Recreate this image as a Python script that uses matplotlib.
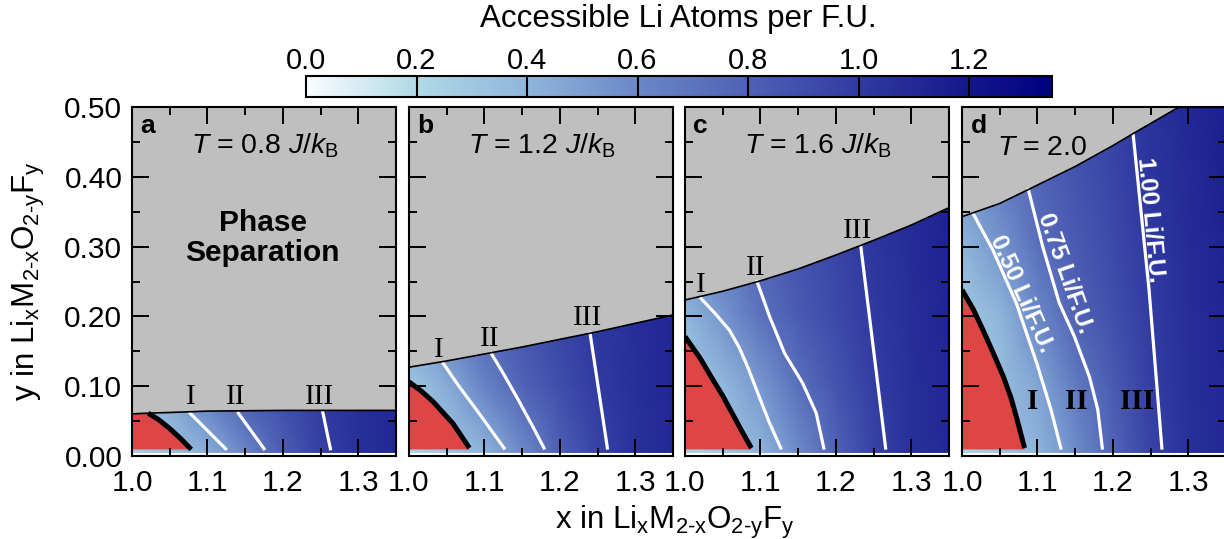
import numpy as np
import matplotlib
matplotlib.use("Agg")
import matplotlib.pyplot as plt
from matplotlib.colors import LinearSegmentedColormap, Normalize
from matplotlib.patches import Polygon
from matplotlib.ticker import MultipleLocator, FormatStrFormatter
import matplotlib.cm as cm

plt.rcParams['font.family'] = 'Liberation Sans'
plt.rcParams['mathtext.fontset'] = 'custom'
plt.rcParams['mathtext.rm'] = 'Liberation Sans'
plt.rcParams['mathtext.it'] = 'Liberation Sans:italic'
plt.rcParams['mathtext.bf'] = 'Liberation Sans:bold'

# colour scale (accessible Li per F.U.)
cbar_vals = [0.0, 0.2, 0.4, 0.6, 0.8, 1.0, 1.2, 1.35]
cbar_colors = [(0.98, 0.99, 1.00), (0.69, 0.85, 0.90), (0.56, 0.71, 0.86),
               (0.42, 0.53, 0.78), (0.31, 0.38, 0.71), (0.19, 0.23, 0.63),
               (0.08, 0.09, 0.55), (0.00, 0.00, 0.50)]
cbar_ticks = [0.0, 0.2, 0.4, 0.6, 0.8, 1.0, 1.2]

x_nodes = [1.00, 1.05, 1.10, 1.15, 1.20, 1.25, 1.30, 1.35]
temps = ['0.8', '1.2', '1.6', '2.0']

# ---- panel a ----
a_rows = [0.0, 0.07]
a_field = [[0.25, 0.33, 0.42, 0.60, 0.81, 0.96, 1.05, 1.10],
           [0.30, 0.42, 0.60, 0.78, 0.89, 0.995, 1.06, 1.11]]
a_bnd_x = [1.00, 1.02, 1.05, 1.10, 1.20, 1.35]
a_bnd_y = [0.060, 0.061, 0.062, 0.064, 0.065, 0.065]
a_sep_x = [1.0215, 1.035, 1.050, 1.065, 1.0785]
a_sep_y = [0.061, 0.052, 0.039, 0.024, 0.009]
a_I = ([1.077, 1.124], [0.061, 0.010])
a_II = ([1.141, 1.175], [0.061, 0.010])
a_III = ([1.253, 1.263], [0.062, 0.010])
a_lbl_x = [1.078, 1.137, 1.248]
a_lbl_y = [0.0735, 0.0735, 0.0735]

# ---- panel b ----
b_rows = [0.0, 0.1, 0.21]
b_field = [[0.22, 0.30, 0.40, 0.58, 0.80, 0.95, 1.05, 1.10],
           [0.30, 0.44, 0.62, 0.79, 0.90, 1.00, 1.06, 1.11],
           [0.50, 0.65, 0.80, 0.88, 0.95, 1.02, 1.07, 1.12]]
b_bnd_x = [1.00, 1.05, 1.10, 1.15, 1.20, 1.25, 1.30, 1.35]
b_bnd_y = [0.127, 0.136, 0.146, 0.156, 0.167, 0.178, 0.190, 0.202]
b_sep_x = [1.000, 1.016, 1.032, 1.045, 1.058, 1.069, 1.080]
b_sep_y = [0.106, 0.093, 0.0775, 0.062, 0.0465, 0.029, 0.011]
b_I = ([1.045, 1.066, 1.088, 1.108, 1.126], [0.133, 0.100, 0.068, 0.038, 0.011])
b_II = ([1.109, 1.125, 1.146, 1.165, 1.179], [0.147, 0.118, 0.078, 0.040, 0.011])
b_III = ([1.240, 1.263], [0.176, 0.011])
b_lbl_x = [1.039, 1.107, 1.237]
b_lbl_y = [0.142, 0.157, 0.1875]

# ---- panel c ----
c_rows = [0.0, 0.1, 0.2, 0.3, 0.4]
c_field = [[0.22, 0.30, 0.40, 0.58, 0.79, 0.95, 1.05, 1.10],
           [0.28, 0.38, 0.53, 0.72, 0.86, 0.985, 1.06, 1.11],
           [0.38, 0.54, 0.71, 0.83, 0.92, 1.01, 1.07, 1.12],
           [0.57, 0.68, 0.79, 0.87, 0.94, 1.02, 1.08, 1.13],
           [0.62, 0.72, 0.82, 0.90, 0.97, 1.04, 1.09, 1.14]]
c_bnd_x = [1.00, 1.05, 1.10, 1.15, 1.20, 1.25, 1.30, 1.35]
c_bnd_y = [0.2235, 0.236, 0.251, 0.268, 0.288, 0.309, 0.331, 0.356]
c_sep_x = [1.000, 1.020, 1.037, 1.050, 1.064, 1.076, 1.088]
c_sep_y = [0.171, 0.140, 0.109, 0.086, 0.058, 0.034, 0.011]
c_I = ([1.021, 1.040, 1.059, 1.072, 1.084, 1.095, 1.112, 1.127],
       [0.226, 0.204, 0.180, 0.155, 0.125, 0.094, 0.047, 0.011])
c_II = ([1.0955, 1.112, 1.132, 1.156, 1.174, 1.184], [0.250, 0.200, 0.147, 0.104, 0.061, 0.011])
c_III = ([1.233, 1.266], [0.301, 0.011])
c_lbl_x = [1.021, 1.094, 1.229]
c_lbl_y = [0.235, 0.260, 0.313]

# ---- panel d ----
d_rows = [0.0, 0.1, 0.2, 0.3, 0.4, 0.5]
d_field = [[0.22, 0.30, 0.40, 0.57, 0.78, 0.95, 1.05, 1.10],
           [0.25, 0.34, 0.47, 0.66, 0.83, 0.98, 1.06, 1.11],
           [0.30, 0.40, 0.60, 0.79, 0.89, 0.995, 1.07, 1.12],
           [0.40, 0.54, 0.72, 0.83, 0.92, 1.01, 1.08, 1.13],
           [0.53, 0.65, 0.78, 0.87, 0.94, 1.03, 1.09, 1.14],
           [0.58, 0.70, 0.81, 0.89, 0.96, 1.04, 1.10, 1.15]]
d_bnd_x = [1.000, 1.050, 1.088, 1.150, 1.200, 1.228, 1.260, 1.287, 1.35]
d_bnd_y = [0.343, 0.362, 0.382, 0.415, 0.445, 0.463, 0.483, 0.500, 0.500]
d_sep_x = [1.000, 1.015, 1.028, 1.042, 1.055, 1.065, 1.072, 1.083]
d_sep_y = [0.238, 0.210, 0.180, 0.146, 0.113, 0.083, 0.056, 0.011]
d_I = ([1.015, 1.041, 1.072, 1.099, 1.118, 1.131], [0.347, 0.295, 0.219, 0.133, 0.066, 0.011])
d_II = ([1.088, 1.107, 1.129, 1.149, 1.169, 1.180, 1.186], [0.382, 0.300, 0.219, 0.171, 0.113, 0.066, 0.011])
d_III = ([1.227, 1.248, 1.265], [0.460, 0.238, 0.011])
d_lbl_x = [1.094, 1.151, 1.232]
d_lbl_y = [0.0665, 0.0665, 0.0665]
d_curve_text = ['0.50 Li/F.U.', '0.75 Li/F.U.', '1.00 Li/F.U.']
d_curve_x = [1.079, 1.136, 1.250]
d_curve_y = [0.233, 0.262, 0.338]
d_curve_rot = [-66, -70.6, -84.7]

numerals = ['I', 'II', 'III']

W, H = 1224, 539
gray = (0.75, 0.75, 0.75)
red = (0.87, 0.27, 0.27)

cmap = LinearSegmentedColormap.from_list(
    'li', list(zip(np.array(cbar_vals) / cbar_vals[-1], cbar_colors)))
norm = Normalize(vmin=0.0, vmax=cbar_vals[-1])

fig = plt.figure(figsize=(W / 100, H / 100), dpi=100)

panels = [
    ('a', a_rows, a_field, a_bnd_x, a_bnd_y, a_sep_x, a_sep_y, [a_I, a_II, a_III], a_lbl_x, a_lbl_y),
    ('b', b_rows, b_field, b_bnd_x, b_bnd_y, b_sep_x, b_sep_y, [b_I, b_II, b_III], b_lbl_x, b_lbl_y),
    ('c', c_rows, c_field, c_bnd_x, c_bnd_y, c_sep_x, c_sep_y, [c_I, c_II, c_III], c_lbl_x, c_lbl_y),
    ('d', d_rows, d_field, d_bnd_x, d_bnd_y, d_sep_x, d_sep_y, [d_I, d_II, d_III], d_lbl_x, d_lbl_y),
]
lefts = [132, 409, 685, 962]

for i, (letter, rows, field, bx, by, sx, sy, curves, lx, ly) in enumerate(panels):
    ax = fig.add_axes([lefts[i] / W, (H - 455.7) / H, 264 / W, 348.4 / H])
    ax.set_facecolor(gray)
    ax.set_xlim(1.0, 1.35)
    ax.set_ylim(0.0, 0.5)
    ax.set_axisbelow(False)

    # accessible-Li field, clipped to the single-phase region
    X, Y = np.meshgrid(x_nodes, rows)
    mesh = ax.pcolormesh(X, Y, np.array(field), shading='gouraud', cmap=cmap, norm=norm, zorder=1)
    region = Polygon(list(zip(bx, by)) + [(1.35, 0.0), (1.0, 0.0)], closed=True,
                     transform=ax.transData, facecolor='none', edgecolor='none')
    mesh.set_clip_path(region)

    # non-percolating region
    red_top = by[0] if sx[0] > 1.0 else sy[0]
    red_verts = [(sx[-1], 0.009), (1.0, 0.009), (1.0, red_top)] + list(zip(sx, sy))
    ax.add_patch(Polygon(red_verts, closed=True, facecolor=red, edgecolor='none', zorder=1.2))

    ax.axhline(0.0028, color='white', lw=1.5, zorder=1.3)
    for cx, cy in curves:
        ax.plot(cx, cy, color='white', lw=2.3, zorder=2)
    ax.plot(sx, sy, color='black', lw=3.6, solid_capstyle='butt', zorder=2.2)
    ax.plot(bx, by, color='black', lw=1.2, zorder=2.2)

    for k in range(3):
        if letter == 'd':
            ax.text(lx[k], ly[k], numerals[k], family='Liberation Serif', fontweight='bold',
                    fontsize=21, ha='center', va='baseline', zorder=3)
        else:
            ax.text(lx[k], ly[k], numerals[k], family='Liberation Serif',
                    fontsize=21, ha='center', va='baseline', zorder=3)

    ax.text(0.032, 0.925, letter, transform=ax.transAxes, fontsize=19,
            fontweight='bold', ha='left', va='baseline', zorder=3)
    if letter == 'd':
        ax.text(0.303, 0.863, r'$T$ = ' + temps[i], transform=ax.transAxes,
                fontsize=20.5, ha='center', va='baseline', zorder=3)
        for k in range(3):
            ax.text(d_curve_x[k], d_curve_y[k], d_curve_text[k], color='white',
                    fontsize=17.5, fontweight='bold', rotation=d_curve_rot[k],
                    rotation_mode='anchor', ha='center', va='center', zorder=3)
    else:
        ax.text(0.505, 0.868, r'$T$ = ' + temps[i] + r' $J/k_\mathrm{B}$',
                transform=ax.transAxes, fontsize=20.5, ha='center', va='baseline', zorder=3)
    if letter == 'a':
        ax.text(0.495, 0.625, 'Phase\nSeparation', transform=ax.transAxes, fontsize=21.5,
                fontweight='bold', ha='center', va='center', linespacing=1.12, zorder=3)

    ax.xaxis.set_major_locator(MultipleLocator(0.1))
    ax.xaxis.set_minor_locator(MultipleLocator(0.05))
    ax.yaxis.set_major_locator(MultipleLocator(0.1))
    ax.yaxis.set_minor_locator(MultipleLocator(0.05))
    ax.xaxis.set_major_formatter(FormatStrFormatter('%.1f'))
    ax.yaxis.set_major_formatter(FormatStrFormatter('%.2f'))
    ax.tick_params(which='both', direction='in', top=True, right=True, width=1.4,
                   labelsize=21.5)
    ax.tick_params(which='major', length=12)
    ax.tick_params(which='minor', length=5.8)
    ax.tick_params(axis='x', pad=9.5)
    ax.tick_params(axis='y', pad=7)
    ax.tick_params(axis='y', labelleft=(letter == 'a'))
    for sp in ax.spines.values():
        sp.set_linewidth(1.5)

fig.text(35 / W, 1 - 281 / H, r'y in Li$_\mathrm{x}$M$_{\text{2-x}}$O$_{\text{2-y}}$F$_\mathrm{y}$',
         rotation=90, rotation_mode='anchor', ha='center', va='baseline', fontsize=22.5)
fig.text(675 / W, 1 - 529 / H, r'x in Li$_\mathrm{x}$M$_{\text{2-x}}$O$_{\text{2-y}}$F$_\mathrm{y}$',
         ha='center', va='baseline', fontsize=22.5)

# colour bar
cax = fig.add_axes([306 / W, 1 - 97 / H, 746 / W, 21 / H])
cb = fig.colorbar(cm.ScalarMappable(norm=norm, cmap=cmap), cax=cax, orientation='horizontal')
cb.set_ticks(cbar_ticks)
cb.ax.xaxis.set_major_formatter(FormatStrFormatter('%.1f'))
cax.xaxis.set_ticks_position('top')
cax.tick_params(length=0, labelsize=21, pad=0.5)
for t in cbar_ticks[1:]:
    cax.axvline(t, color='black', lw=1.5)
cb.outline.set_linewidth(1.5)
fig.text(678.5 / W, 1 - 19 / H, 'Accessible Li Atoms per F.U.', ha='center', va='center', fontsize=22.5)

fig.savefig('out.png', dpi=100)
